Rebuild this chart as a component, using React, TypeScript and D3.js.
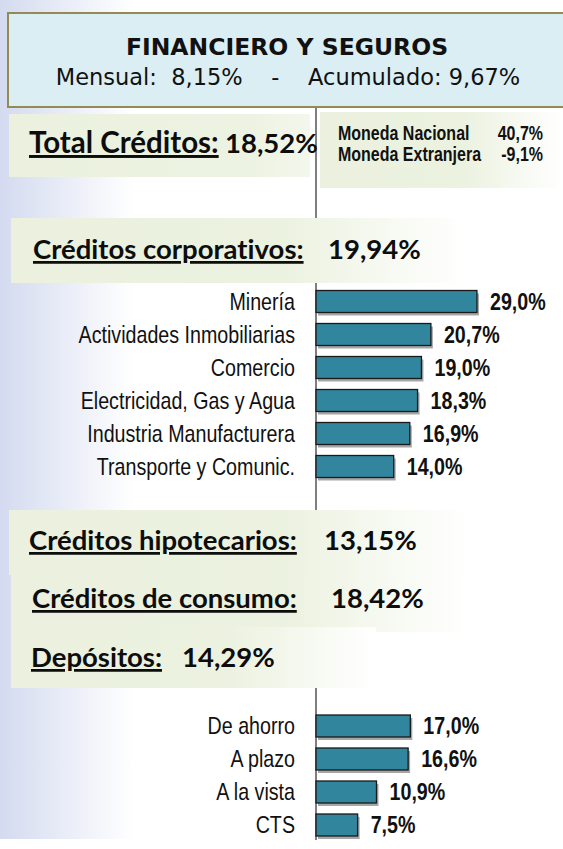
import React from "react";
import * as d3 from "d3";

// ---------- data ----------
const titleText = "FINANCIERO Y SEGUROS";
const mensualLabel = "Mensual:";
const mensualValue = 8.15;
const acumuladoLabel = "Acumulado:";
const acumuladoValue = 9.67;

const totalLabel = "Total Créditos:";
const totalValue = 18.52;

const monedaLabels = ["Moneda Nacional", "Moneda Extranjera"];
const monedaValues = [40.7, -9.1];

const corpLabel = "Créditos corporativos:";
const corpTotal = 19.94;
const corpCategories = [
  "Minería",
  "Actividades Inmobiliarias",
  "Comercio",
  "Electricidad, Gas y Agua",
  "Industria Manufacturera",
  "Transporte y Comunic.",
];
const corpValues = [29.0, 20.7, 19.0, 18.3, 16.9, 14.0];

const hipoLabel = "Créditos hipotecarios:";
const hipoValue = 13.15;
const consumoLabel = "Créditos de consumo:";
const consumoValue = 18.42;

const depLabel = "Depósitos:";
const depTotal = 14.29;
const depCategories = ["De ahorro", "A plazo", "A la vista", "CTS"];
const depValues = [17.0, 16.6, 10.9, 7.5];

// ---------- layout ----------
const W = 563;
const H = 849;
const AXIS_X = 316;

const locale = d3.formatLocale({
  decimal: ",",
  thousands: ".",
  grouping: [3],
  currency: ["", ""],
  minus: "-",
});
const f1 = (v: number) => locale.format(".1f")(v) + "%";
const f2 = (v: number) => locale.format(".2f")(v) + "%";

const x = d3.scaleLinear().domain([0, 30]).range([AXIS_X, AXIS_X + 166.5]);
const yCorp = d3
  .scaleBand<string>()
  .domain(corpCategories)
  .range([285, 483])
  .paddingInner(1 / 3)
  .paddingOuter(1 / 6);
const yDep = d3
  .scaleBand<string>()
  .domain(depCategories)
  .range([709.5, 841.5])
  .paddingInner(1 / 3)
  .paddingOuter(1 / 6);

const NARROW = "'Liberation Sans', Arial, sans-serif";
const HEAD = "Lato, 'Open Sans', sans-serif";
const TITLE = "'DejaVu Sans', Verdana, sans-serif";
const BAR_FILL = "#31859c";
const HEAD_SIZE = 27.5;
const LABEL_SIZE = 24;

function Narrow(props: {
  x: number;
  y: number;
  size: number;
  anchor?: string;
  bold?: boolean;
  children: React.ReactNode;
}) {
  return (
    <g transform={`translate(${props.x},${props.y}) scale(0.82,1)`}>
      <text
        x={0}
        y={0}
        fontFamily={NARROW}
        fontSize={props.size}
        fontWeight={props.bold ? "bold" : "normal"}
        textAnchor={props.anchor || "start"}
        fill="#111"
      >
        {props.children}
      </text>
    </g>
  );
}

function Heading(props: {
  x: number;
  y: number;
  label: string;
  valueX: number;
  value: string;
  labelSize?: number;
}) {
  return (
    <g style={{ fontVariantLigatures: "none" }}>
      <text
        x={props.x}
        y={props.y}
        fontFamily={HEAD}
        fontWeight="bold"
        fontSize={props.labelSize || HEAD_SIZE}
        fill="#0d0d0d"
      >
        <tspan style={{ textDecoration: "underline" }}>{props.label}</tspan>
      </text>
      <text x={props.valueX} y={props.y} fontFamily={HEAD} fontWeight="bold" fontSize={HEAD_SIZE} fill="#0d0d0d">
        {props.value}
      </text>
    </g>
  );
}

function Bars(props: { cats: string[]; vals: number[]; y: d3.ScaleBand<string> }) {
  const bw = props.y.bandwidth();
  return (
    <g>
      {props.cats.map((c, i) => {
        const y0 = props.y(c) as number;
        const v = props.vals[i];
        const w = x(v) - x(0);
        return (
          <g key={c}>
            <rect x={x(0) + 2} y={y0 + 3} width={w} height={bw} fill="#000" opacity={0.35} />
            <rect x={x(0)} y={y0} width={w} height={bw} fill={BAR_FILL} stroke="#1a1a1a" strokeWidth={1.3} />
            <Narrow x={AXIS_X - 21} y={y0 + bw / 2 + LABEL_SIZE * 0.35} size={LABEL_SIZE} anchor="end">
              {c}
            </Narrow>
            <Narrow x={x(v) + 13} y={y0 + bw / 2 + LABEL_SIZE * 0.35} size={LABEL_SIZE} bold>
              {f1(v)}
            </Narrow>
          </g>
        );
      })}
    </g>
  );
}

export default function App() {
  return (
    <svg
      width={W}
      height={H}
      viewBox={`0 0 ${W} ${H}`}
      style={{ position: "absolute", left: 0, top: 0, background: "#fff" }}
    >
      <defs>
        <linearGradient id="lav" x1="0" x2="1" y1="0" y2="0">
          <stop offset="0" stopColor="#d4dbf0" />
          <stop offset="0.95" stopColor="#ffffff" />
        </linearGradient>
        <linearGradient id="greenSolid" x1="0" x2="1" y1="0" y2="0">
          <stop offset="0" stopColor="#ebf1de" />
          <stop offset="0.8" stopColor="#edf3e2" />
          <stop offset="1" stopColor="#f3f7ec" />
        </linearGradient>
        <linearGradient id="greenFade" x1="0" x2="1" y1="0" y2="0">
          <stop offset="0" stopColor="#ebf1de" />
          <stop offset="0.6" stopColor="#ecf2e0" />
          <stop offset="1" stopColor="#ffffff" />
        </linearGradient>
      </defs>

      {/* lavender left background */}
      <rect x={0} y={0} width={140} height={839} fill="url(#lav)" />

      {/* axis line */}
      <line x1={AXIS_X} x2={AXIS_X} y1={107} y2={840} stroke="#7f7f7f" strokeWidth={2} />

      {/* header */}
      <rect x={8} y={13} width={570} height={94} fill="#dbeef4" stroke="#948a54" strokeWidth={2} />
      <text x={287} y={55} textAnchor="middle" fontFamily={TITLE} fontWeight="bold" fontSize={23.5} fill="#111">
        {titleText}
      </text>
      <text
        x={288}
        y={85}
        textAnchor="middle"
        fontFamily={TITLE}
        fontSize={22.5}
        fill="#111"
        style={{ whiteSpace: "pre" }}
      >
        {`${mensualLabel}  ${f2(mensualValue)}    -    ${acumuladoLabel} ${f2(acumuladoValue)}`}
      </text>

      {/* total creditos */}
      <rect x={9} y={114} width={301} height={63} fill="url(#greenSolid)" />
      <Heading x={29} y={153} label={totalLabel} valueX={225} value={f2(totalValue)} labelSize={29.5} />

      <rect x={320} y={112} width={243} height={76} fill="url(#greenFade)" />
      {monedaLabels.map((m, i) => (
        <g key={m}>
          <Narrow x={338} y={140 + i * 21} size={19.5} bold>
            {m}
          </Narrow>
          <Narrow x={543} y={140 + i * 21} size={19.5} anchor="end" bold>
            {f1(monedaValues[i])}
          </Narrow>
        </g>
      ))}

      {/* corporativos */}
      <rect x={11} y={218} width={455} height={65} fill="url(#greenFade)" />
      <Heading x={33} y={259} label={corpLabel} valueX={328} value={f2(corpTotal)} />
      <Bars cats={corpCategories} vals={corpValues} y={yCorp} />

      {/* hipotecarios / consumo / depositos */}
      <rect x={9} y={510} width={460} height={65} fill="url(#greenFade)" />
      <rect x={11} y={575} width={458} height={57} fill="url(#greenFade)" />
      <rect x={11} y={627} width={365} height={61} fill="url(#greenFade)" />
      <Heading x={29} y={550} label={hipoLabel} valueX={324} value={f2(hipoValue)} />
      <Heading x={32} y={608} label={consumoLabel} valueX={331} value={f2(consumoValue)} />
      <Heading x={31} y={667} label={depLabel} valueX={182} value={f2(depTotal)} />

      <Bars cats={depCategories} vals={depValues} y={yDep} />
    </svg>
  );
}
